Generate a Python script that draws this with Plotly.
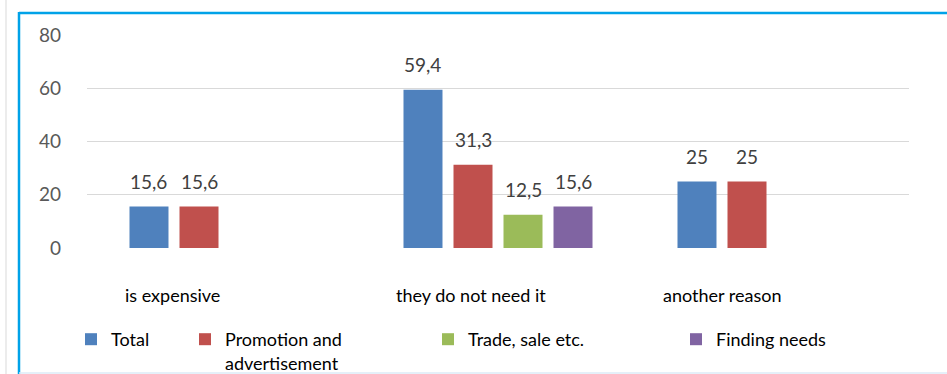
import plotly.graph_objects as go

# Reasons for not using the service, % of respondents
categories = ["is expensive", "they do not need it", "another reason"]
series_names = ["Total", "Promotion and<br>advertisement", "Trade, sale etc.", "Finding needs"]
total = [15.6, 59.4, 25]
promotion = [15.6, 31.3, 25]
trade = [None, 12.5, None]
finding = [None, 15.6, None]
y_ticks = [0, 20, 40, 60, 80]

series_values = [total, promotion, trade, finding]
colors = ["#4F81BD", "#C0504D", "#9BBB59", "#8064A2"]

W, H = 947, 374
L, R, T, B = 87, 909, 35, 248
FONT = "Lato"
BARGAP, GROUPGAP = 0.27, 0.22


def px_x(px):
    return (px - L) / (R - L)


def px_y(py):
    return (B - py) / (B - T)


fig = go.Figure()
legend_ids = ["legend", "legend2", "legend3", "legend4"]
for name, vals, col, lg in zip(series_names, series_values, colors, legend_ids):
    fig.add_trace(go.Bar(
        x=categories, y=vals, name=name, marker_color=col,
        marker_line_width=0, legend=lg, hoverinfo="skip",
    ))

# value labels above the bars
n = len(series_values)
slot = (1 - BARGAP) / n
for k, vals in enumerate(series_values):
    for i, v in enumerate(vals):
        if v is None:
            continue
        txt = ("%g" % v).replace(".", ",")
        fig.add_annotation(
            x=i + (k - (n - 1) / 2) * slot, y=v, xref="x", yref="y",
            text=txt, showarrow=False, yanchor="middle", yshift=25,
            font=dict(family=FONT, size=19, color="#404040"),
        )

# category captions below the axis
cat_shift = [-52, -27, -50]
for i, c in enumerate(categories):
    fig.add_annotation(
        x=i, y=0, xref="x", yref="y", text=c, showarrow=False,
        yanchor="middle", yshift=-47, xshift=cat_shift[i],
        font=dict(family=FONT, size=18, color="#000000"),
    )

# frame lines around the chart
shapes = [
    dict(type="line", xref="paper", yref="paper", x0=px_x(6), x1=px_x(6),
         y0=px_y(0), y1=px_y(H), line=dict(color="#D9D9D9", width=1)),
    dict(type="line", xref="paper", yref="paper", x0=px_x(19), x1=px_x(W + 2),
         y0=px_y(13), y1=px_y(13), line=dict(color="#00A2E8", width=2.5)),
    dict(type="line", xref="paper", yref="paper", x0=px_x(19), x1=px_x(19),
         y0=px_y(12), y1=px_y(H + 2), line=dict(color="#00A2E8", width=2.5)),
    dict(type="line", xref="paper", yref="paper", x0=px_x(19), x1=px_x(W + 2),
         y0=px_y(373), y1=px_y(373), line=dict(color="#DDEBF7", width=1.5)),
]

legend_font = dict(family=FONT, size=18, color="#000000")
legend_x = [71, 185, 428, 676]
legends = {}
for lg, lx in zip(legend_ids, legend_x):
    legends[lg] = dict(
        x=px_x(lx), y=px_y(321), xanchor="left", yanchor="top",
        orientation="h", font=legend_font, bgcolor="rgba(0,0,0,0)",
        valign="top", itemclick=False, itemdoubleclick=False,
    )

fig.update_layout(
    width=W, height=H,
    margin=dict(l=L, r=W - R, t=T, b=H - B, pad=0, autoexpand=False),
    paper_bgcolor="white", plot_bgcolor="white",
    barmode="group", bargap=BARGAP, bargroupgap=GROUPGAP,
    showlegend=True, shapes=shapes,
    xaxis=dict(showticklabels=False, showgrid=False, zeroline=False,
               showline=False, ticks="", fixedrange=True),
    yaxis=dict(range=[0, 80], tickvals=y_ticks, showgrid=True,
               gridcolor="#D9D9D9", gridwidth=1, zeroline=False,
               showline=False, ticks="", ticklabelstandoff=25,
               tickfont=dict(family=FONT, size=19, color="#595959"),
               fixedrange=True),
    **legends,
)

fig.write_html("out.html")
